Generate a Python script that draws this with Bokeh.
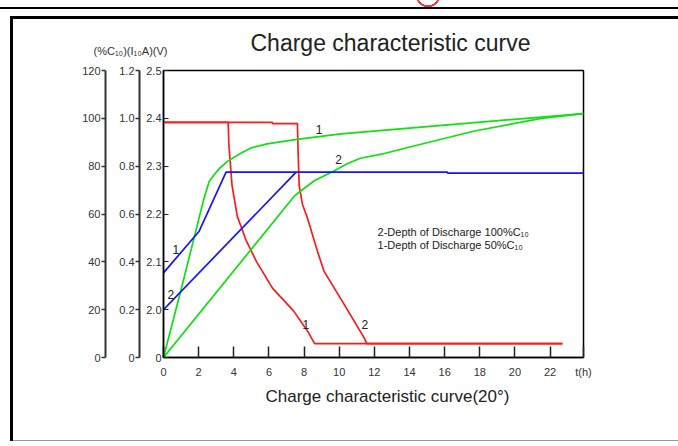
from bokeh.plotting import figure
from bokeh.models import Range1d, LinearAxis, FixedTicker, Label, Title
from bokeh.embed import file_html
from bokeh.resources import INLINE

# ---------------- data ----------------
hour_ticks = [0, 2, 4, 6, 8, 10, 12, 14, 16, 18, 20, 22]
t_end = 23.9
time_unit_label = "t(h)"

volt_ticks = [1.9, 2.0, 2.1, 2.2, 2.3, 2.4, 2.5]
volt_labels = ["0", "2.0", "2.1", "2.2", "2.3", "2.4", "2.5"]
cur_ticks = [0, 0.2, 0.4, 0.6, 0.8, 1.0, 1.2]
cur_labels = ["0", "0.2", "0.4", "0.6", "0.8", "1.0", "1.2"]
pct_ticks = [0, 20, 40, 60, 80, 100, 120]

# charge current (I10 A)
cur1_t = [0, 3.68, 3.72, 3.9, 4.2, 4.7, 5.3, 6.2, 7.4, 8.2, 8.6, 22.7]
cur1_v = [0.983, 0.983, 0.89, 0.72, 0.59, 0.49, 0.40, 0.29, 0.195, 0.11, 0.058, 0.058]
cur2_t = [0, 6.2, 6.2, 7.62, 7.66, 7.72, 7.91, 8.19, 8.76, 9.14, 10.28, 11.41, 11.57, 22.7]
cur2_v = [0.983, 0.983, 0.978, 0.978, 0.86, 0.72, 0.64, 0.583, 0.444, 0.36, 0.222, 0.083, 0.058, 0.058]

# cell voltage (V)
volt1_t = [0, 2.03, 3.56, 16.16, 16.16, 23.9]
volt1_v = [2.077, 2.164, 2.2875, 2.2875, 2.2855, 2.2855]
volt2_t = [0, 7.55]
volt2_v = [2.0, 2.2875]

# charged capacity (% C10)
cap1_t = [0, 0.98, 1.74, 2.31, 2.6, 2.88, 3.2, 3.64, 4.4, 5.0, 5.9, 7.6, 10.1, 23.9]
cap1_v = [0, 27.8, 50.0, 66.7, 73.6, 76.4, 79.2, 82.0, 85.4, 87.7, 89.3, 91.2, 93.5, 102.0]
cap2_t = [0, 7.45, 7.75, 8.6, 9.7, 10.45, 11.2, 12.4, 13.9, 17.7, 21.5, 23.9]
cap2_v = [0, 67.5, 69.3, 74.0, 78.0, 81.0, 83.3, 85.0, 87.8, 94.7, 100.0, 102.0]

RED = "#ff1a1a"
GREEN = "#10e010"
BLUE = "#1414ff"
TXT = "#333333"
FONT = "Liberation Sans"

W, H = 678, 446
p = figure(width=W, height=H, output_backend="svg", toolbar_location=None,
           title=None,
           x_range=Range1d(0, t_end), y_range=Range1d(1.9, 2.5),
           min_border_left=163, min_border_right=95,
           min_border_top=69, min_border_bottom=89)
p.extra_y_ranges = {"cur": Range1d(0, 1.2), "pct": Range1d(0, 120)}
p.xgrid.visible = False
p.ygrid.visible = False
p.outline_line_color = "black"
p.outline_line_width = 1.5
p.background_fill_color = "white"
p.border_fill_alpha = 0
# scanned-page frame lines drawn as background of the page element
p.styles = {
    "background": (
        "radial-gradient(circle at 428px -5px, transparent 10px, #e04040 10.5px, "
        "#e04040 12px, transparent 12.5px) 0px 0px / 100% 8px no-repeat, "
        "linear-gradient(#000,#000) 0px 7px / 100% 2px no-repeat, "
        "linear-gradient(#000,#000) 10px 16px / 668px 3px no-repeat, "
        "linear-gradient(#000,#000) 10px 16px / 3px 425px no-repeat, "
        "linear-gradient(#999,#999) 10px 440px / 668px 1px no-repeat, "
        "#ffffff"
    )
}

# x axis (unit label placed as last tick label at the right edge)
xa = p.xaxis[0]
xa.ticker = FixedTicker(ticks=hour_ticks + [t_end])
xa.major_label_overrides = {t_end: time_unit_label}
xa.major_tick_in = 11
xa.major_tick_out = 0
xa.minor_tick_line_color = None
xa.major_tick_line_color = "#222222"
xa.major_tick_line_width = 1.5
xa.axis_line_color = "black"
xa.axis_line_width = 1.5
xa.major_label_standoff = 8
xa.major_label_text_font = FONT
xa.major_label_text_font_size = "11px"
xa.major_label_text_color = TXT

# voltage axis (default left)
va = p.yaxis[0]
va.ticker = FixedTicker(ticks=volt_ticks)
va.major_label_overrides = {k: v for k, v in zip(volt_ticks, volt_labels)}
va.major_tick_in = 5
va.major_tick_out = 0
va.minor_tick_line_color = None
va.major_tick_line_color = "#222222"
va.axis_line_color = "black"
va.axis_line_width = 1.5
va.major_label_standoff = 2
va.major_label_text_font = FONT
va.major_label_text_font_size = "11px"
va.major_label_text_color = TXT
va.axis_label = " "
va.axis_label_text_font_size = "1px"
va.axis_label_standoff = 0

# current axis
ca = LinearAxis(y_range_name="cur", ticker=FixedTicker(ticks=cur_ticks))
ca.major_label_overrides = {k: v for k, v in zip(cur_ticks, cur_labels)}
ca.major_tick_in = 0
ca.major_tick_out = 4
ca.minor_tick_line_color = None
ca.major_tick_line_color = "#333333"
ca.axis_line_color = "#333333"
ca.axis_line_width = 2
ca.major_tick_line_width = 1.5
ca.major_label_standoff = 1
ca.major_label_text_font = FONT
ca.major_label_text_font_size = "11px"
ca.major_label_text_color = TXT
ca.axis_label = " "
ca.axis_label_text_font_size = "1px"
ca.axis_label_standoff = 7
p.add_layout(ca, "left")

# capacity axis
pa = LinearAxis(y_range_name="pct", ticker=FixedTicker(ticks=pct_ticks))
pa.major_tick_in = 0
pa.major_tick_out = 4
pa.minor_tick_line_color = None
pa.major_tick_line_color = "#333333"
pa.axis_line_color = "#333333"
pa.axis_line_width = 2
pa.major_tick_line_width = 1.5
pa.major_label_standoff = 1
pa.major_label_text_font = FONT
pa.major_label_text_font_size = "11px"
pa.major_label_text_color = TXT
p.add_layout(pa, "left")

# titles
p.add_layout(Title(text="Charge characteristic curve", align="left", offset=87,
                   text_font=FONT, text_font_size="23px", text_font_style="normal",
                   text_color="#222222", standoff=30), "above")
p.add_layout(Title(text="Charge characteristic curve(20\u00b0)", align="left", offset=102,
                   text_font=FONT, text_font_size="17px", text_font_style="normal",
                   text_color="#222222", standoff=8), "below")

# units header (in the top panel, canvas units)
p.add_layout(Label(x=93, y=50, x_units="canvas", y_units="canvas",
                   text="(%C\u2081\u2080)(I\u2081\u2080A)(V)", text_font=FONT,
                   text_font_size="11px", text_color=TXT, text_align="left",
                   text_baseline="middle"), "above")

# curves
LW = 1.7
p.line(cur2_t, cur2_v, y_range_name="cur", line_color=RED, line_width=LW)
p.line(cur1_t, cur1_v, y_range_name="cur", line_color=RED, line_width=LW)
p.line(cap1_t, cap1_v, y_range_name="pct", line_color=GREEN, line_width=LW)
p.line(cap2_t, cap2_v, y_range_name="pct", line_color=GREEN, line_width=LW)
p.line(volt1_t, volt1_v, line_color=BLUE, line_width=LW)
p.line(volt2_t, volt2_v, line_color=BLUE, line_width=LW)

def lab(x, y, text, size="12px", rng="default", align="center", color="#222222"):
    p.add_layout(Label(x=x, y=y, text=text, y_range_name=rng, text_font=FONT,
                       text_font_size=size, text_color=color, text_align=align,
                       text_baseline="middle"))

# curve numbers
lab(0.70, 2.126, "1")
lab(0.42, 2.032, "2")
lab(8.10, 0.136, "1", rng="cur")
lab(11.45, 0.136, "2", rng="cur")
lab(8.85, 95.2, "1", rng="pct")
lab(9.96, 82.7, "2", rng="pct")

# legend text
lab(12.18, 2.1625, "2-Depth of Discharge 100%C\u2081\u2080", size="11px", align="left")
lab(12.18, 2.136, "1-Depth of Discharge 50%C\u2081\u2080", size="11px", align="left")

open("out.html", "w").write(file_html(p, INLINE))
